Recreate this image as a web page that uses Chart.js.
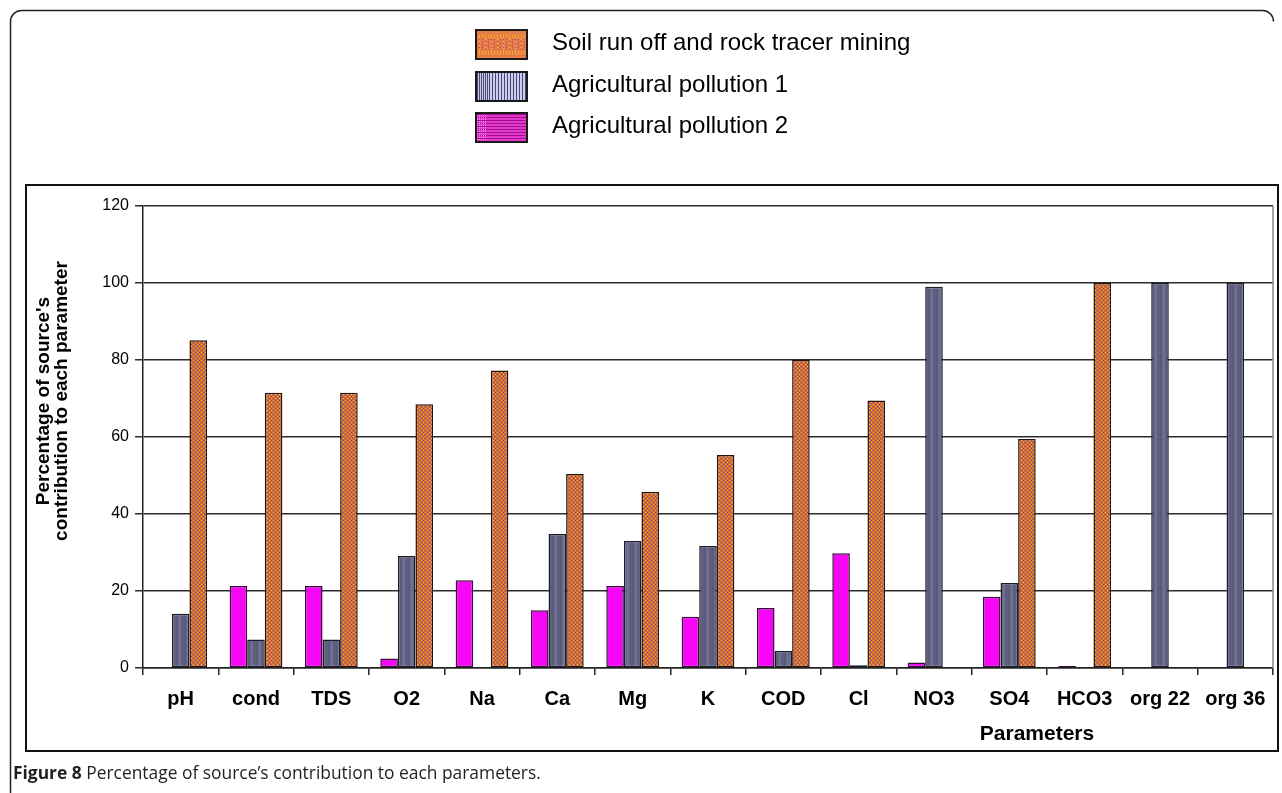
<!DOCTYPE html>
<html>
<head>
<meta charset="utf-8">
<script src="https://cdn.jsdelivr.net/npm/chart.js@4.4.1/dist/chart.umd.min.js"></script>
<style>
  html, body { margin:0; padding:0; background:#fff; }
  body { width:1282px; height:793px; overflow:hidden; position:relative; font-family:"Liberation Sans", Arial, sans-serif; }
  #c { position:absolute; left:0; top:0; }
  .lg-row { position:absolute; left:475px; height:31px; }
  .lg-row canvas { position:absolute; left:0; top:0; }
  .lg-row span { position:absolute; left:77px; top:-3px; white-space:nowrap; font-size:24px; line-height:31px; color:#000; }
  #ytitle { position:absolute; left:-146px; top:381px; width:400px; height:40px; transform:rotate(-90deg);
            text-align:center; font-weight:bold; font-size:19px; line-height:18px; color:#000; white-space:nowrap; }
  #xtitle { position:absolute; left:937px; top:721px; width:200px; text-align:center; font-weight:bold; font-size:21px; line-height:24px; color:#000; }
  #caption { position:absolute; left:13px; top:762px; font-family:"Open Sans", sans-serif; font-size:17.4px; line-height:20px; color:#231f20; white-space:nowrap; }
</style>
</head>
<body>
<canvas id="c" width="1282" height="793"></canvas>
<div id="legend"></div>
<div id="ytitle">Percentage of source's<br>contribution to each parameter</div>
<div id="xtitle">Parameters</div>
<div id="caption"><b>Figure 8</b> Percentage of source’s contribution to each parameters.</div>
<script>
// ---- data ----
const categories = ['pH','cond','TDS','O2','Na','Ca','Mg','K','COD','Cl','NO3','SO4','HCO3','org 22','org 36'];
const agri2Values = [0, 21.3, 21.3, 2.5, 22.8, 15.0, 21.3, 13.3, 15.6, 29.8, 1.4, 18.5, 0.5, 0, 0];
const agri1Values = [14.1, 7.4, 7.4, 29.1, 0, 34.8, 33.0, 31.7, 4.4, 0.7, 99.0, 22.1, 0, 100, 100];
const soilValues  = [85.1, 71.5, 71.5, 68.5, 77.3, 50.4, 45.8, 55.3, 80.0, 69.5, 0, 59.5, 100, 0, 0];
const seriesLabels = ['Agricultural pollution 2', 'Agricultural pollution 1', 'Soil run off and rock tracer mining'];
const yTicks = [0, 20, 40, 60, 80, 100, 120];

// ---- patterns ----
function makePattern(w, h, draw) {
  const c = document.createElement('canvas'); c.width = w; c.height = h;
  const g = c.getContext('2d'); draw(g);
  return c;
}
const ctxMain = document.getElementById('c').getContext('2d');
const orangeTile = makePattern(4, 4, g => {
  g.fillStyle = '#cc6a3a'; g.fillRect(0,0,4,4);
  g.fillStyle = '#f4c41c'; g.fillRect(1,0,1,1); g.fillRect(3,2,1,1);
  g.fillStyle = '#a03c8c'; g.fillRect(3,0,1,1); g.fillRect(1,2,1,1);
});
const greyTile = makePattern(8, 1, g => {
  const cols = ['#58587a','#5c5c7c','#66668a','#727296','#6c6c90','#626284','#5a5a7a','#606082'];
  cols.forEach((col,i) => { g.fillStyle = col; g.fillRect(i,0,1,1); });
});
const pinkTile = makePattern(2, 2, g => {
  g.fillStyle = '#ff0cff'; g.fillRect(0,0,2,2);
  g.fillStyle = '#ee00ee'; g.fillRect(0,0,1,1); g.fillRect(1,1,1,1);
});
const orangeFill = ctxMain.createPattern(orangeTile, 'repeat');
const greyFill = ctxMain.createPattern(greyTile, 'repeat');
const pinkFill = ctxMain.createPattern(pinkTile, 'repeat');

// ---- legend swatches (HTML, reversed order) ----
function swatch(kind) {
  const c = document.createElement('canvas'); c.width = 53; c.height = 31;
  const g = c.getContext('2d');
  if (kind === 'soil') {
    g.fillStyle = '#e67e46'; g.fillRect(0,0,53,31);
    for (let x = 4; x < 50; x += 3) {
      for (let y = 6; y < 26; y += 2) {
        g.fillStyle = ((x + y) % 4 === 0) ? '#f8d010' : '#c0408c';
        if (y < 10 || y > 20) g.fillStyle = '#f8d010';
        g.fillRect(x, y, 1, 1);
      }
    }
  } else if (kind === 'a1') {
    g.fillStyle = '#cacaf4'; g.fillRect(0,0,53,31);
    g.fillStyle = '#4a4a6a';
    for (let x = 2; x < 14; x += 2) g.fillRect(x, 0, 1, 31);
    for (let x = 14; x < 52; x += 3) g.fillRect(x, 0, 1, 31);
  } else {
    g.fillStyle = '#e438cc'; g.fillRect(0,0,53,31);
    g.fillStyle = '#a0108c';
    for (let y = 2; y < 30; y += 3) g.fillRect(0, y, 53, 1);
    g.fillStyle = '#ff80ff';
    for (let x = 2; x < 12; x += 2) for (let y = 1; y < 30; y += 2) g.fillRect(x, y, 1, 1);
  }
  g.strokeStyle = '#1a1a1a'; g.lineWidth = 2; g.strokeRect(1,1,51,29);
  return c;
}
const legendDiv = document.getElementById('legend');
const legendItems = [
  {label: seriesLabels[2], kind: 'soil', top: 29},
  {label: seriesLabels[1], kind: 'a1', top: 70.5},
  {label: seriesLabels[0], kind: 'a2', top: 112}
];
legendItems.forEach(it => {
  const row = document.createElement('div'); row.className = 'lg-row'; row.style.top = it.top + 'px';
  row.appendChild(swatch(it.kind));
  const s = document.createElement('span'); s.textContent = it.label; row.appendChild(s);
  legendDiv.appendChild(row);
});

// ---- frames plugin ----
const framePlugin = {
  id: 'frames',
  beforeDraw(chart) {
    const g = chart.ctx;
    g.save();
    g.fillStyle = '#fff'; g.fillRect(0,0,chart.width,chart.height);
    g.strokeStyle = '#222'; g.lineWidth = 1.5;
    g.beginPath();
    g.moveTo(10.5, 793); g.lineTo(10.5, 22);
    g.arcTo(10.5, 10.5, 22, 10.5, 11);
    g.lineTo(1262, 10.5);
    g.arcTo(1273.5, 10.5, 1273.5, 22, 11);
    g.stroke();
    g.strokeStyle = '#111'; g.lineWidth = 2;
    g.strokeRect(26, 185, 1252, 566);
    g.restore();
  },
  afterDraw(chart) {
    const a = chart.chartArea, g = chart.ctx;
    g.save();
    g.strokeStyle = '#8a8a8a'; g.lineWidth = 1.5;
    g.beginPath(); g.moveTo(a.right, a.top); g.lineTo(a.right, a.bottom); g.stroke();
    g.restore();
  }
};

Chart.defaults.font.family = '"Liberation Sans", Arial, sans-serif';
Chart.defaults.color = '#000';

new Chart(document.getElementById('c'), {
  type: 'bar',
  data: {
    labels: categories,
    datasets: [
      { label: seriesLabels[0], data: agri2Values, backgroundColor: pinkFill, borderColor: '#3a0a3a', borderWidth: 1.5, borderSkipped: false },
      { label: seriesLabels[1], data: agri1Values, backgroundColor: greyFill, borderColor: '#1c1c28', borderWidth: 1.5, borderSkipped: false },
      { label: seriesLabels[2], data: soilValues, backgroundColor: orangeFill, borderColor: '#2a1408', borderWidth: 1.5, borderSkipped: false }
    ]
  },
  options: {
    responsive: false,
    animation: false,
    devicePixelRatio: 1,
    layout: { padding: { top: 206, right: 9, bottom: 0, left: 0 } },
    datasets: { bar: { categoryPercentage: 0.7, barPercentage: 1.0 } },
    plugins: { legend: { display: false }, tooltip: { enabled: false }, title: { display: false } },
    scales: {
      x: {
        grid: { display: true, drawOnChartArea: false, drawTicks: true, tickLength: 7, color: '#222', lineWidth: 1.5, offset: true },
        border: { color: '#222', width: 1.5 },
        ticks: { font: { size: 20, weight: 'bold' }, color: '#000', padding: 12, maxRotation: 0, autoSkip: false },
        afterFit(s) { s.height = 125; }
      },
      y: {
        min: 0, max: 120,
        afterBuildTicks(s) { s.ticks = yTicks.map(v => ({ value: v })); },
        grid: { color: '#2c2c2c', lineWidth: 1.5, tickLength: 8 },
        border: { color: '#222', width: 1.5 },
        ticks: { font: { size: 16 }, color: '#000', padding: 6 },
        afterFit(s) { s.width = 143; }
      }
    }
  },
  plugins: [framePlugin]
});
</script>
</body>
</html>
